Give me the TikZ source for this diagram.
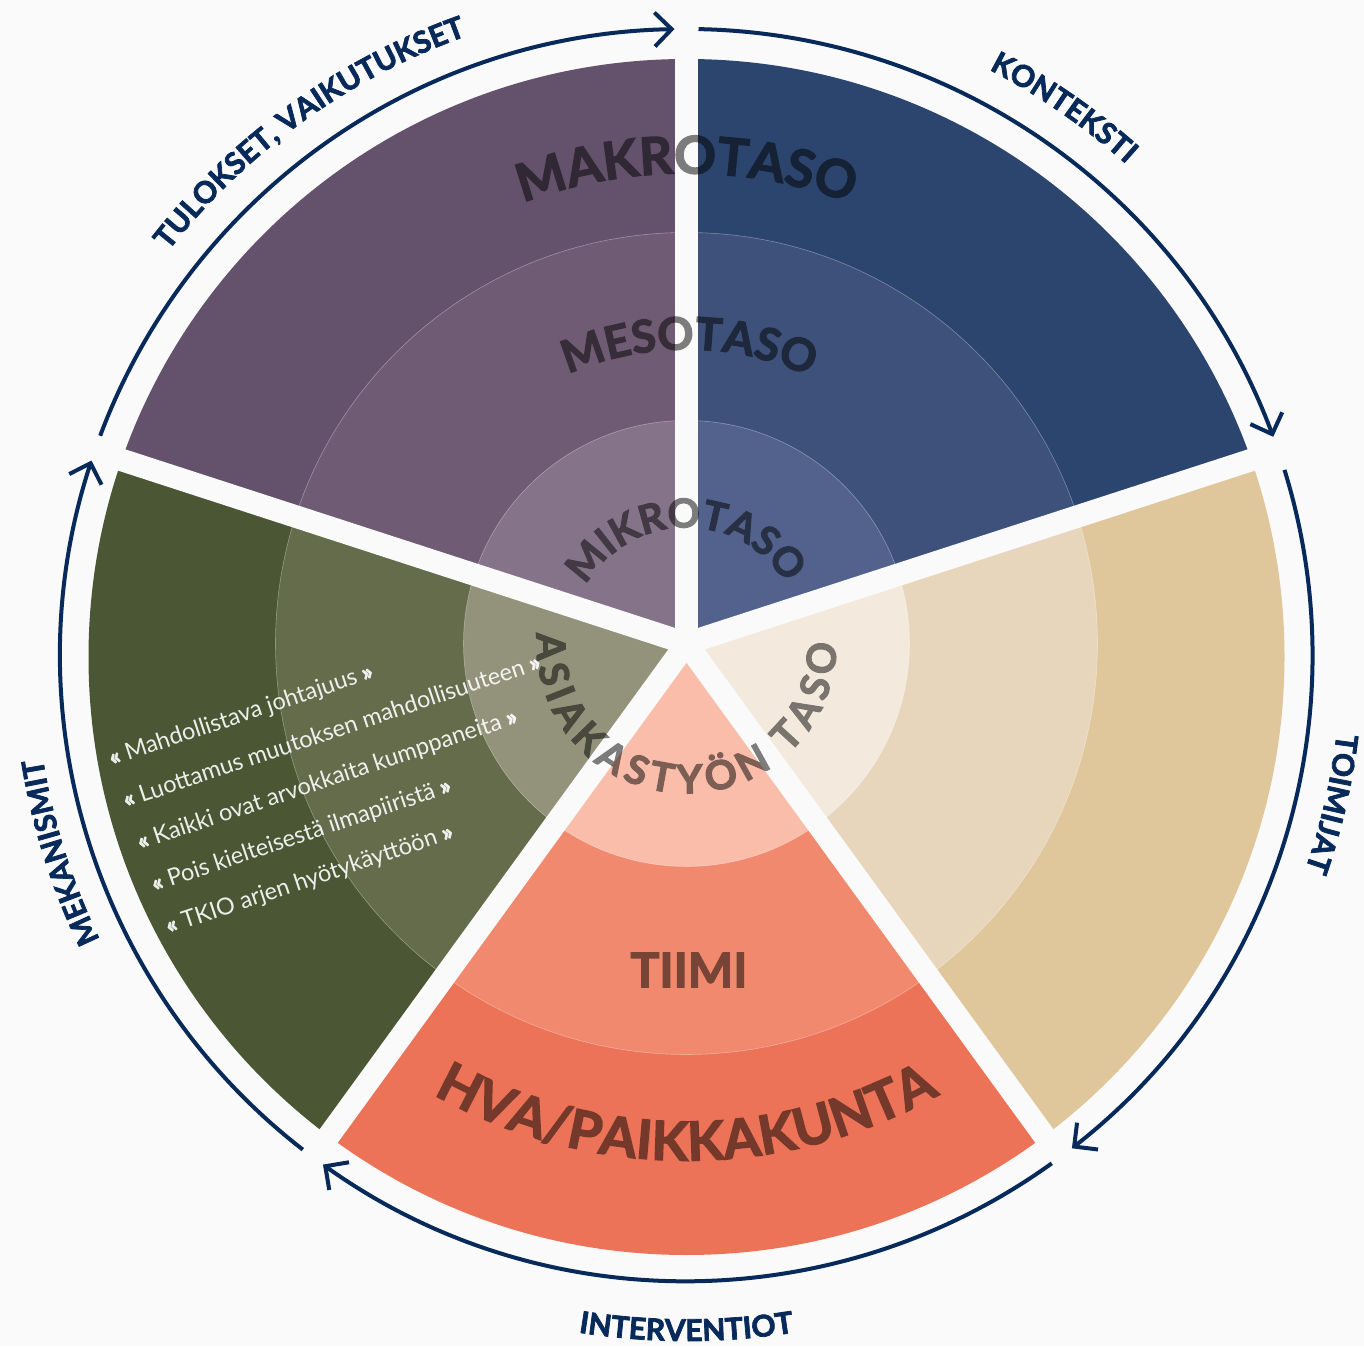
\documentclass[tikz,border=0pt]{standalone}
\usepackage{fontspec}
\setmainfont{Lato}[BoldFeatures={FakeBold=2.5}]
\usetikzlibrary{decorations.text,arrows.meta}
\definecolor{bg}{RGB}{250,250,250}
\definecolor{navy}{RGB}{7,42,91}
\definecolor{puA}{RGB}{100,81,108}\definecolor{puB}{RGB}{112,91,116}\definecolor{puC}{RGB}{133,115,137}
\definecolor{blA}{RGB}{44,69,110}\definecolor{blB}{RGB}{62,81,122}\definecolor{blC}{RGB}{82,98,141}
\definecolor{taA}{RGB}{223,199,155}\definecolor{taB}{RGB}{232,214,188}\definecolor{taC}{RGB}{244,233,221}
\definecolor{orA}{RGB}{236,115,87}\definecolor{orB}{RGB}{240,137,109}\definecolor{orC}{RGB}{249,189,170}
\definecolor{grA}{RGB}{75,87,52}\definecolor{grB}{RGB}{101,108,75}\definecolor{grC}{RGB}{146,147,122}
\tikzset{
  cyclearrow/.style={navy, line width=4pt, -{Straight Barb[length=17pt,width=34pt]}},
  outerlabel/.style={decorate, decoration={text along path, text align=center, text color=navy,
      text={|\fontsize{30}{30}\selectfont\bfseries|#1}}},
  ringlabel/.style 2 args={decorate, decoration={text along path, text align=center,
      text={|\fontsize{#1}{#1}\selectfont\bfseries|#2}}},
  fitlabel/.style 2 args={decorate, decoration={text along path, text align=fit to path,
      text={|\fontsize{#1}{#1}\selectfont\bfseries|#2}}},
  quote/.style={text=white, rotate=18.5, inner sep=0pt, anchor=base west,
      font=\fontsize{23.5}{28}\selectfont}
}
\newcommand{\myopenq}{{\bfseries «}}
\newcommand{\mycloseq}{{\bfseries »}}
\begin{document}
\begin{tikzpicture}[x=1pt,y=1pt]
\fill[bg] (0,0) rectangle (1364,1346);
\useasboundingbox (0,0) rectangle (1364,1346);
\coordinate (C) at (686.5,702.5);
\coordinate (O) at (686.5,689);
\coordinate (A) at (686.5,691);
% sectors
\foreach \s/\cA/\cB/\cC in {90/puA/puB/puC, 18/blA/blB/blC, -54/taA/taB/taC, -126/orA/orB/orC, 162/grA/grB/grC}{
  \begin{scope}
    \clip[shift={(C)}] (0,0) -- (\s:1000) -- (\s+36:1300) -- (\s+72:1000) -- cycle;
    \fill[\cA] (O) circle[radius=598pt];
    \fill[\cB] (C) circle[radius=411pt];
    \fill[\cC] (C) circle[radius=223pt];
    \draw[white, opacity=0.35, line width=0.6pt] (C) circle[radius=411pt] (C) circle[radius=223pt];
  \end{scope}
}
% gaps
\begin{scope}
  \clip (O) circle[radius=604pt];
  \foreach \a in {90,18,-54,-126,162}{
    \draw[bg, line width=22.5pt] (C) -- ++(\a:700);
  }
  \fill[bg] (C) circle[radius=12pt];
\end{scope}
% cycle arrows
\begin{scope}[shift={(A)}]
  \draw[cyclearrow] (159.5:626) arc[start angle=159.5, end angle=91.1, radius=626pt];
  \draw[cyclearrow] (88.9:626) arc[start angle=88.9, end angle=20.4, radius=626pt];
  \draw[cyclearrow] (17.2:626) arc[start angle=17.2, end angle=-52, radius=626pt];
  \draw[cyclearrow] (-54.3:626) arc[start angle=-54.3, end angle=-125.5, radius=626pt];
  \draw[cyclearrow] (232.2:626) arc[start angle=232.2, end angle=161.9, radius=626pt];
  % outer labels
  \path[outerlabel={TULOKSET, VAIKUTUKSET}] (145.8:657) arc[start angle=145.8, end angle=105.8, radius=657pt];
  \path[outerlabel={KONTEKSTI}] (75.4:659) arc[start angle=75.4, end angle=35.4, radius=659pt];
  \path[outerlabel={TOIMIJAT}] (7:655) arc[start angle=7, end angle=-33, radius=655pt];
  \path[outerlabel={MEKANISMIT}] (217.5:652) arc[start angle=217.5, end angle=177.5, radius=652pt];
  \path[outerlabel={INTERVENTIOT}] (255:686) arc[start angle=255, end angle=285, radius=686pt];
\end{scope}
% level labels (semi-transparent as one group)
\begin{scope}[transparency group, opacity=0.5]
  \begin{scope}[shift={(C)}]
    \path[ringlabel={52}{MAKROTASO}] (110:470) arc[start angle=110, end angle=70, radius=470pt];
    \path[ringlabel={45}{MESOTASO}] (126:294) arc[start angle=126, end angle=53, radius=294pt];
    \path[fitlabel={40}{MIKROTASO}] (150:116) arc[start angle=150, end angle=33, radius=116pt];
    \path[fitlabel={40}{ASIAKASTYÖN TASO}] (176:150) arc[start angle=176, end angle=360, radius=150pt];
    \path[ringlabel={54}{HVA/PAIKKAKUNTA}] (240:517) arc[start angle=240, end angle=300, radius=517pt];
  \end{scope}
  \node[font=\fontsize{48}{48}\selectfont\bfseries] (tiimi) at (689,376) {TIIMI};
\end{scope}
% quotes
\begin{scope}[transparency group, opacity=0.9]
\node[quote] (q1) at (112,580) {\myopenq{} Mahdollistava johtajuus \mycloseq};
\node[quote] (q2) at (126.2,538) {\myopenq{} Luottamus muutoksen mahdollisuuteen \mycloseq};
\node[quote] (q3) at (140.4,496) {\myopenq{} Kaikki ovat arvokkaita kumppaneita \mycloseq};
\node[quote] (q4) at (154.6,454) {\myopenq{} Pois kielteisestä ilmapiiristä \mycloseq};
\node[quote] (q5) at (168.8,412) {\myopenq{} TKIO arjen hyötykäyttöön \mycloseq};
\end{scope}
\end{tikzpicture}
\end{document}
